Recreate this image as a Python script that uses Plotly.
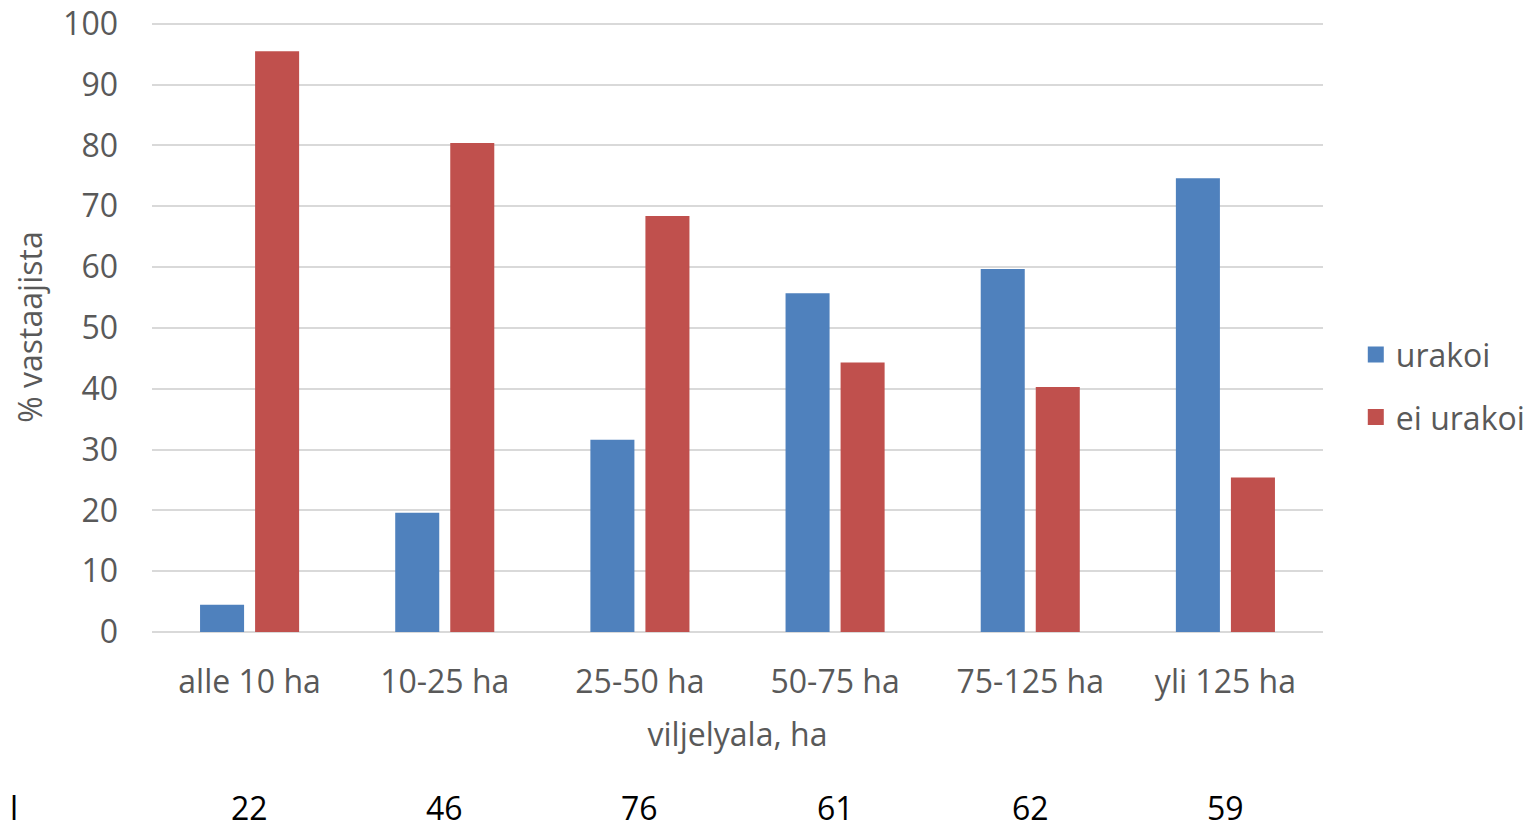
import plotly.graph_objects as go

categories = ["alle 10 ha", "10-25 ha", "25-50 ha", "50-75 ha", "75-125 ha", "yli 125 ha"]
urakoi = [4.5, 19.6, 31.6, 55.7, 59.7, 74.6]
ei_urakoi = [95.5, 80.4, 68.4, 44.3, 40.3, 25.4]
n_counts = ["22", "46", "76", "61", "62", "59"]
n_label = "l"
y_ticks = [0, 10, 20, 30, 40, 50, 60, 70, 80, 90, 100]
series_names = ["urakoi", "ei urakoi"]
colors = ["#4F81BD", "#C0504D"]

FONT = "Open Sans, Liberation Sans, sans-serif"
GREY = "#595959"
FS = 32

fig = go.Figure()
for name, vals, col in zip(series_names, [urakoi, ei_urakoi], colors):
    fig.add_trace(go.Bar(x=categories, y=vals, name=name, showlegend=False,
                         marker=dict(color=col, line=dict(width=0))))
# legend entries with larger square swatches
for name, col in zip(series_names, colors):
    fig.add_trace(go.Scatter(x=[None], y=[None], mode="markers", name=name,
                             legendgroup=name,
                             marker=dict(symbol="square", size=20, color=col)))

for c, n in zip(categories, n_counts):
    fig.add_annotation(x=c, xref="x", y=-0.2885, yref="paper", text=n,
                       showarrow=False, font=dict(size=FS, color="black", family=FONT),
                       yanchor="middle")
fig.add_annotation(x=-0.123, xref="paper", y=-0.2885, yref="paper", text=n_label,
                   showarrow=False, font=dict(size=FS, color="black", family=FONT),
                   xanchor="left", yanchor="middle")

fig.update_layout(
    width=1535, height=827,
    margin=dict(l=144, r=220, t=14, b=203, autoexpand=False),
    paper_bgcolor="white", plot_bgcolor="white",
    barmode="group", bargap=0.436, bargroupgap=0.2,
    font=dict(family=FONT, size=FS, color=GREY),
    legend=dict(x=1.028, y=0.403, xanchor="left", yanchor="middle",
                font=dict(size=FS, color=GREY), itemwidth=30, tracegroupgap=18),
    xaxis=dict(showgrid=False, showline=False, ticks="", ticklabelstandoff=28,
               automargin=False, ticklabeloverflow="allow",
               tickfont=dict(size=FS, color=GREY),
               title=dict(text="viljelyala, ha", font=dict(size=FS, color=GREY), standoff=22)),
    yaxis=dict(range=[0, 100.3], tickvals=y_ticks, showgrid=True, gridcolor="#D9D9D9",
               gridwidth=1.5, zeroline=True, zerolinecolor="#D9D9D9", zerolinewidth=1.5,
               showline=False, ticks="", ticklabelstandoff=33, automargin=False,
               ticklabeloverflow="allow",
               tickfont=dict(size=FS, color=GREY),
               title=dict(text="% vastaajista", font=dict(size=FS, color=GREY), standoff=10)),
)

fig.write_html("out.html")
